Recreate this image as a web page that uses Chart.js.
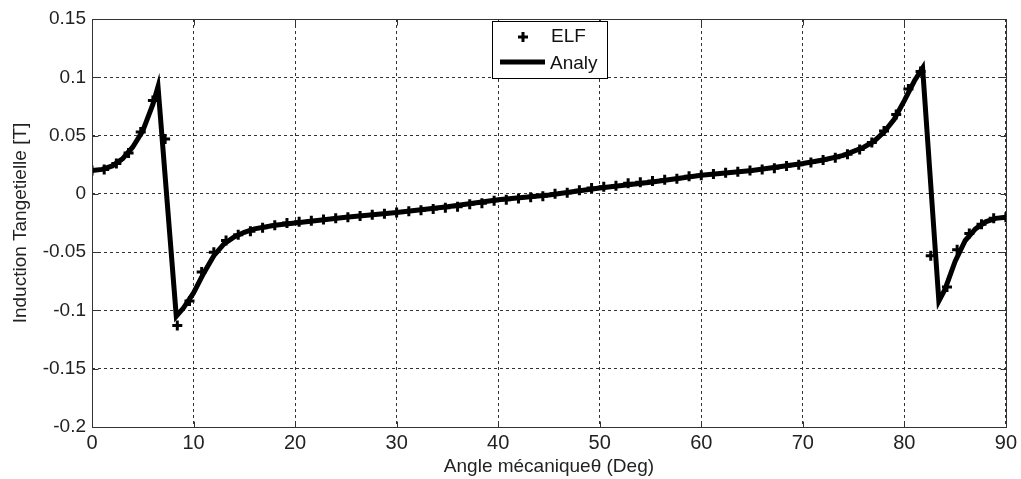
<!DOCTYPE html>
<html>
<head>
<meta charset="utf-8">
<script src="https://cdn.jsdelivr.net/npm/chart.js@4"></script>
<style>
  html, body { margin: 0; padding: 0; background: #fff; }
  #wrap { width: 1021px; height: 479px; }
</style>
</head>
<body>
<div id="wrap"><canvas id="induction" width="1021" height="479"></canvas></div>
<script>
// ELF samples (deg, T)
const elfAngle = [0, 1.2, 2.4, 3.6, 4.8, 6.0, 7.2, 8.4, 9.6, 10.8, 12.0, 13.2, 14.4, 15.6, 16.8, 18.0, 19.2,
    20.4, 21.6, 22.8, 24.0, 25.2, 26.4, 27.6, 28.8, 30.0, 31.2, 32.4, 33.6, 34.8, 36.0, 37.2, 38.4, 39.6,
    40.8, 42.0, 43.2, 44.4, 45.6, 46.8, 48.0, 49.2, 50.4, 51.6, 52.8, 54.0, 55.2, 56.4, 57.6, 58.8,
    60.0, 61.2, 62.4, 63.6, 64.8, 66.0, 67.2, 68.4, 69.6, 70.8, 72.0, 73.2, 74.4, 75.6, 76.8, 78.0,
    79.2, 80.4, 81.6, 82.6, 84.2, 85.2, 86.4, 87.6, 88.8, 90.0]
const elfValue = [0.020, 0.021, 0.026, 0.035, 0.053, 0.080, 0.047, -0.113, -0.092, -0.067, -0.050, -0.040,
    -0.035, -0.032, -0.029, -0.027, -0.025, -0.024, -0.023, -0.022, -0.021, -0.020, -0.019, -0.018, -0.017,
    -0.016, -0.015, -0.014, -0.013, -0.012, -0.011, -0.009, -0.008, -0.006, -0.005, -0.004, -0.003, -0.002,
    0.000, 0.001, 0.003, 0.005, 0.006, 0.007, 0.009, 0.010, 0.011, 0.012, 0.013, 0.015, 0.016, 0.017,
    0.018, 0.019, 0.020, 0.021, 0.022, 0.024, 0.025, 0.027, 0.029, 0.031, 0.034, 0.038, 0.044, 0.054,
    0.068, 0.090, 0.105, -0.053, -0.080, -0.048, -0.034, -0.026, -0.021, -0.020]

// Analytical curve
const analyAngle = [0, 1, 2, 3, 4, 5, 6, 6.5, 8.3, 9, 10, 11, 12, 13, 14, 15, 16, 18, 20, 25, 30, 35, 40,
    45, 50, 55, 60, 65, 70, 72, 74, 76, 77, 78, 79, 80, 81, 81.8, 83.4, 84, 85, 86, 87, 88, 89, 90]
const analyValue = [0.020, 0.021, 0.024, 0.030, 0.040, 0.054, 0.077, 0.092, -0.105, -0.098, -0.085, -0.068,
    -0.053, -0.043, -0.037, -0.033, -0.030, -0.027, -0.025, -0.020, -0.016, -0.011, -0.005, -0.001, 0.005,
    0.010, 0.016, 0.020, 0.026, 0.029, 0.033, 0.040, 0.045, 0.053, 0.064, 0.080, 0.097, 0.108, -0.092,
    -0.082, -0.058, -0.040, -0.030, -0.024, -0.021, -0.020]

const xTicks = [0, 10, 20, 30, 40, 50, 60, 70, 80, 90]
const yTicks = [-0.2, -0.15, -0.1, -0.05, 0, 0.05, 0.1, 0.15]

const FONT = 'Liberation Sans, Arial, sans-serif'

const toPoints = (xs, ys) => xs.map((x, i) => ({ x: x, y: ys[i] }))

// legend box drawn inside the plot, like the matlab one
const boxLegend = {
    id: 'boxLegend',
    afterDraw(chart) {
        const ctx = chart.ctx
        ctx.save()
        ctx.fillStyle = '#fff'
        ctx.fillRect(492, 21, 115, 57)
        ctx.strokeStyle = '#000'
        ctx.lineWidth = 1
        ctx.strokeRect(492.5, 21.5, 115, 57)
        // + marker
        ctx.lineWidth = 3
        ctx.beginPath()
        ctx.moveTo(518, 37); ctx.lineTo(528, 37)
        ctx.moveTo(523, 32); ctx.lineTo(523, 42)
        ctx.stroke()
        // thick line
        ctx.lineWidth = 5
        ctx.beginPath()
        ctx.moveTo(500, 62); ctx.lineTo(545, 62)
        ctx.stroke()
        ctx.fillStyle = '#111'
        ctx.font = '19px ' + FONT
        ctx.textBaseline = 'middle'
        ctx.fillText('ELF', 551, 37)
        ctx.fillText('Analy', 550, 64)
        ctx.restore()
    }
}

// solid frame + small inward ticks on all four sides
const frame = {
    id: 'frame',
    afterDatasetsDraw(chart) {
        const a = chart.chartArea
        const ctx = chart.ctx
        const L = Math.round(a.left) + 0.5, R = Math.round(a.right) + 0.5
        const T = Math.round(a.top) + 0.5, B = Math.round(a.bottom) + 0.5
        ctx.save()
        ctx.strokeStyle = '#333'
        ctx.lineWidth = 1
        ctx.strokeRect(L, T, R - L, B - T)
        ctx.beginPath()
        xTicks.forEach((v) => {
            const px = Math.round(chart.scales.x.getPixelForValue(v)) + 0.5
            ctx.moveTo(px, B); ctx.lineTo(px, B - 6)
            ctx.moveTo(px, T); ctx.lineTo(px, T + 6)
        })
        yTicks.forEach((v) => {
            const py = Math.round(chart.scales.y.getPixelForValue(v)) + 0.5
            ctx.moveTo(L, py); ctx.lineTo(L + 6, py)
            ctx.moveTo(R, py); ctx.lineTo(R - 6, py)
        })
        ctx.stroke()
        ctx.restore()
    }
}

let canvas = document.querySelector('canvas#induction')
var chart = new Chart(canvas, {
    type: 'scatter',
    data: {
        datasets: [{
            label: 'ELF',
            data: toPoints(elfAngle, elfValue),
            pointStyle: 'cross',
            pointRadius: 5,
            borderColor: '#000',
            backgroundColor: '#000',
            borderWidth: 3,
            showLine: false,
            order: 2
        }, {
            label: 'Analy',
            data: toPoints(analyAngle, analyValue),
            showLine: true,
            borderColor: '#000',
            borderWidth: 5,
            pointRadius: 0,
            tension: 0,
            order: 1
        }]
    },
    options: {
        responsive: false,
        animation: false,
        layout: { padding: { top: 19, right: 13, left: 0, bottom: 0 } },
        plugins: {
            legend: { display: false },
            tooltip: { enabled: false }
        },
        scales: {
            x: {
                type: 'linear',
                min: 0,
                max: 90,
                afterBuildTicks: (s) => { s.ticks = xTicks.map(v => ({ value: v })) },
                afterFit: (s) => { s.height = 52 },
                grid: {
                    color: '#333',
                    lineWidth: 1,
                    drawTicks: false
                },
                border: { display: false, dash: [3, 3] },
                ticks: {
                    color: '#222',
                    padding: 4,
                    font: { family: FONT, size: 20 },
                    maxRotation: 0
                },
                title: {
                    display: true,
                    text: 'Angle mécaniqueθ (Deg)',
                    color: '#222',
                    font: { family: FONT, size: 19 },
                    padding: { top: 0, bottom: 1 }
                }
            },
            y: {
                min: -0.2,
                max: 0.15,
                afterBuildTicks: (s) => { s.ticks = yTicks.map(v => ({ value: v })) },
                afterFit: (s) => { s.width = 92 },
                grid: {
                    color: '#333',
                    lineWidth: 1,
                    drawTicks: false
                },
                border: { display: false, dash: [3, 3] },
                ticks: {
                    color: '#222',
                    padding: 6,
                    font: { family: FONT, size: 19 },
                    callback: (v) => String(Math.round(v * 100) / 100)
                },
                title: {
                    display: true,
                    text: 'Induction Tangetielle [T]',
                    color: '#222',
                    font: { family: FONT, size: 19 },
                    padding: { top: 9, bottom: 0 }
                }
            }
        }
    },
    plugins: [frame, boxLegend]
})
</script>
</body>
</html>
